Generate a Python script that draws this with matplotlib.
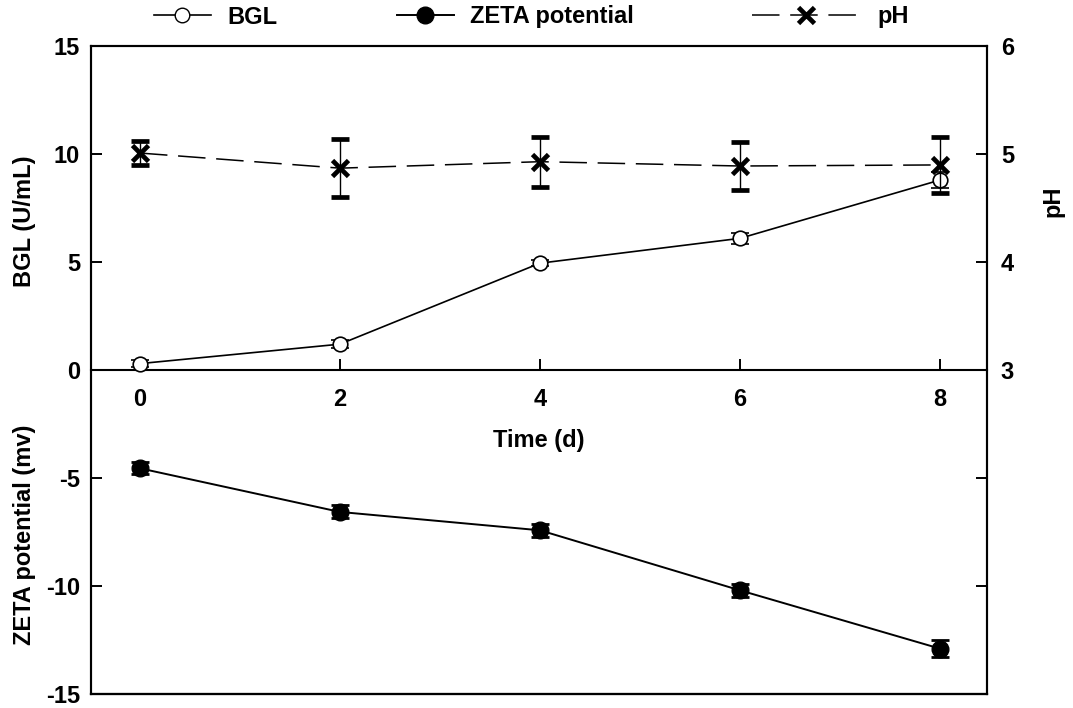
import matplotlib
matplotlib.use("Agg")
import matplotlib.pyplot as plt
from matplotlib.lines import Line2D

plt.rcParams['font.family'] = ['Liberation Sans', 'DejaVu Sans']
plt.rcParams['font.weight'] = 'bold'
plt.rcParams['font.size'] = 17
plt.rcParams['axes.unicode_minus'] = False

days = [0, 2, 4, 6, 8]
bgl = [0.3, 1.2, 4.95, 6.1, 8.8]
bgl_err = [0.15, 0.2, 0.15, 0.25, 0.35]
zeta = [-4.55, -6.57, -7.42, -10.2, -12.9]
zeta_err = [0.28, 0.3, 0.3, 0.3, 0.38]
ph = [5.01, 4.87, 4.93, 4.89, 4.90]
ph_err = [0.11, 0.27, 0.23, 0.22, 0.26]

fig = plt.figure(figsize=(10.73, 7.08), dpi=100)
ax = fig.add_axes([0.0848, 0.0198, 0.835, 0.915])

# BGL (top half) and ZETA (bottom half) share the left axis
ax.errorbar(days, bgl, yerr=bgl_err, color='k', lw=1.2, marker='o', ms=10.5,
            mfc='white', mec='k', mew=1.2, capsize=6.5, capthick=1.1, elinewidth=1.1, zorder=3)
ax.errorbar(days, zeta, yerr=zeta_err, color='k', lw=1.4, marker='o', ms=12,
            mfc='k', mec='k', capsize=6.5, capthick=2.0, elinewidth=1.4, zorder=3)

ax.set_xlim(-0.49, 8.47)
ax.set_ylim(-15, 15)
ax.set_yticks([15, 10, 5, 0, -5, -10, -15])
ax.set_xticks(days)
ax.spines['bottom'].set_position(('data', 0))
ax.axhline(-15, color='k', lw=1.6, clip_on=False)
for s in ax.spines.values():
    s.set_linewidth(1.5)
ax.tick_params(axis='y', direction='in', length=8, width=1.4, pad=8)
ax.tick_params(axis='x', direction='in', length=8, width=1.4, pad=13)
ax.set_xlabel('Time (d)', fontweight='bold', labelpad=13)

ax.text(-0.074, 0.73, 'BGL (U/mL)', transform=ax.transAxes, rotation=90,
        ha='center', va='center', fontweight='bold')
ax.text(-0.074, 0.245, 'ZETA potential (mv)', transform=ax.transAxes, rotation=90,
        ha='center', va='center', fontweight='bold')

# pH on right axis, 3..6 mapped onto the top half
ax2 = ax.twinx()
ax2.errorbar(days, ph, yerr=ph_err, color='k', lw=1.1, ls=(0, (18, 7)), marker='x',
             ms=11, mew=3.4, capsize=6.5, capthick=1.0, elinewidth=1.0, zorder=3)
ax2.set_ylim(0, 6)
ax2.set_yticks([0, 1, 2, 3, 4, 5, 6])
ax2.set_yticklabels(['', '', '', '3', '4', '5', '6'])
ax2.tick_params(axis='y', direction='in', length=8, width=1.4, pad=10)
for s in ax2.spines.values():
    s.set_linewidth(1.5)
ax2.text(1.074, 0.76, 'pH', transform=ax2.transAxes, rotation=90,
         ha='center', va='center', fontweight='bold')

# legend across the top
entries = [
    (Line2D([], [], color='k', lw=1.2, marker='o', ms=10.5, mfc='white', mec='k'), 'BGL', 154 / 1073, 2.4),
    (Line2D([], [], color='k', lw=1.4, marker='o', ms=12, mfc='k'), 'ZETA potential', 397 / 1073, 2.4),
    (Line2D([], [], color='k', lw=1.1, ls=(0, (18, 7)), marker='x', ms=11, mew=3.4), 'pH', 752 / 1073, 4.6),
]
for h, lab, xpos, hl in entries:
    fig.legend([h], [lab], loc='center left', bbox_to_anchor=(xpos, 1 - 17 / 708),
               frameon=False, borderpad=0, borderaxespad=0, handlelength=hl,
               handletextpad=0.7, prop={'weight': 'bold', 'size': 17})

fig.savefig('out.png', dpi=100)
